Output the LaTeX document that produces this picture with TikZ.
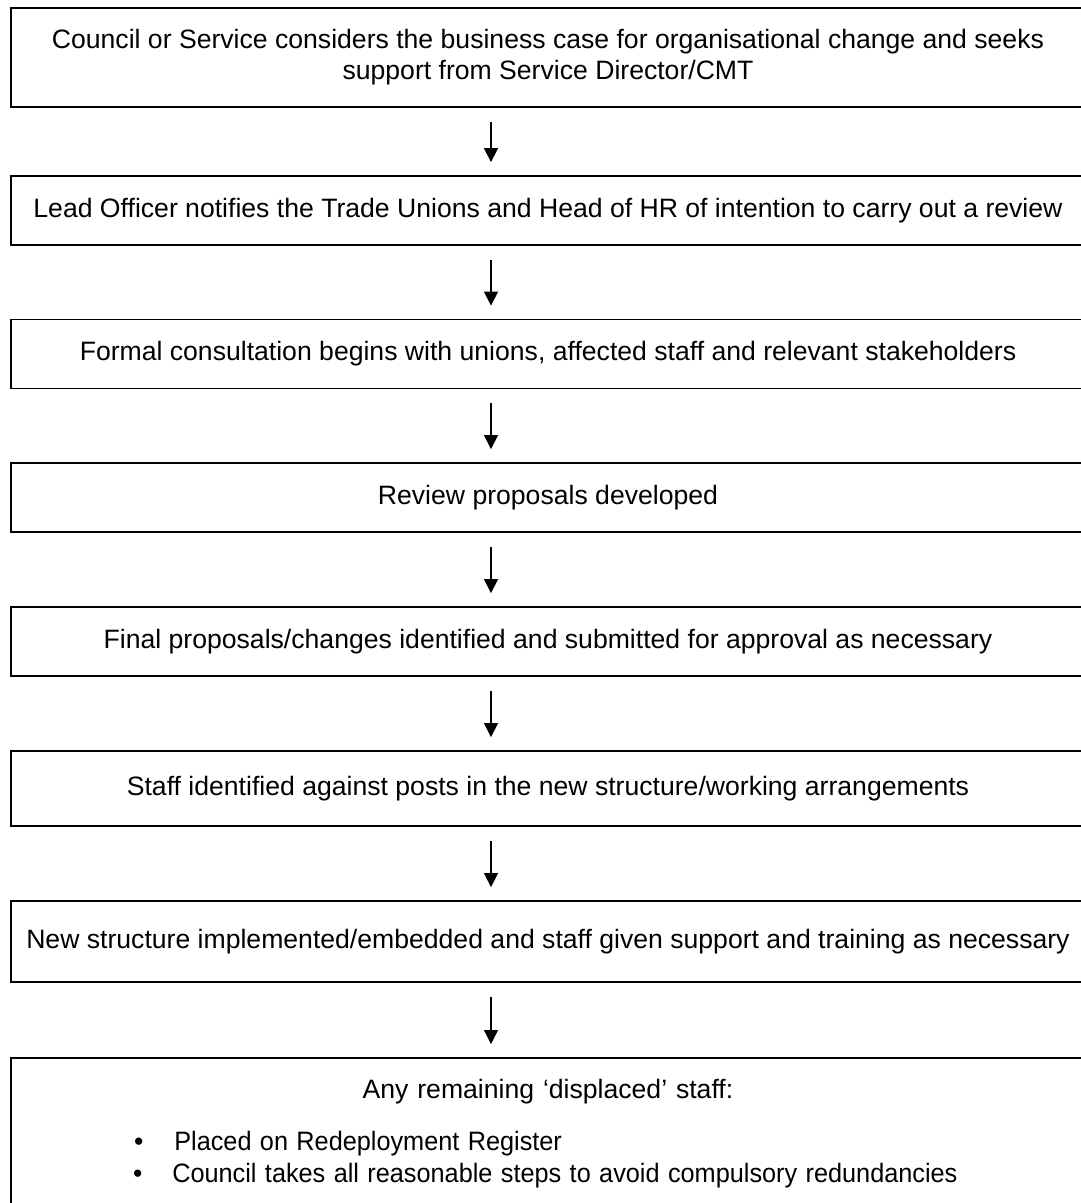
\documentclass[tikz,border=0pt]{standalone}
\usepackage{fontspec}
\setmainfont{Liberation Sans}
\usetikzlibrary{arrows.meta}
\tikzset{
  stepbox/.style={draw, line width=1.8pt, minimum width=1074pt, minimum height=69pt,
    align=center, inner sep=0pt, font=\fontsize{26.6}{31}\selectfont},
  flow/.style={line width=1.3pt, -{Triangle[width=14pt,length=14pt]}}
}

\begin{document}
\begin{tikzpicture}[x=1pt,y=1pt]
\clip (0,0) rectangle (1081,-1203);

% -- the steps, top to bottom
\node[stepbox, minimum height=99pt] (s1) at (548,-57.5) {Council or Service considers the business case for organisational change and seeks\\ support from Service Director/CMT};
\node[stepbox] (s2) at (548,-210.5) {Lead Officer notifies the Trade Unions and Head of HR of intention to carry out a review};
\node[stepbox] (s3) at (548,-354) {Formal consultation begins with unions, affected staff and relevant stakeholders};
\node[stepbox] (s4) at (548,-497.5) {Review proposals developed};
\node[stepbox] (s5) at (548,-641.5) {Final proposals/changes identified and submitted for approval as necessary};
\node[stepbox, minimum height=75pt] (s6) at (548,-788.5) {Staff identified against posts in the new structure/working arrangements};
\node[stepbox, minimum height=81pt] (s7) at (548,-941.5) {New structure implemented/embedded and staff given support and training as necessary};

% -- last box runs off the page
\node[stepbox, anchor=north, align=left, text width=1040pt, inner ysep=21pt, text depth=150pt,
  font=\fontsize{26.6}{32}\selectfont] (s8) at (548,-1057)
  {\makebox[1040pt]{Any remaining ‘displaced’ staff:}\\[20pt]
   \hspace*{106pt}\textbullet\hspace{31pt}\scalebox{0.95}[1]{Placed on Redeployment Register}\\
   \hspace*{105pt}\textbullet\hspace{30pt}\scalebox{0.95}[1]{Council takes all reasonable steps to avoid compulsory redundancies}};

% -- arrows
\foreach \a/\b in {s1/s2,s2/s3,s3/s4,s4/s5,s5/s6,s6/s7,s7/s8}
  \draw[flow] ([xshift=-57pt,yshift=-14pt]\a.south) -- ([xshift=-57pt,yshift=13pt]\b.north);

\end{tikzpicture}
\end{document}
